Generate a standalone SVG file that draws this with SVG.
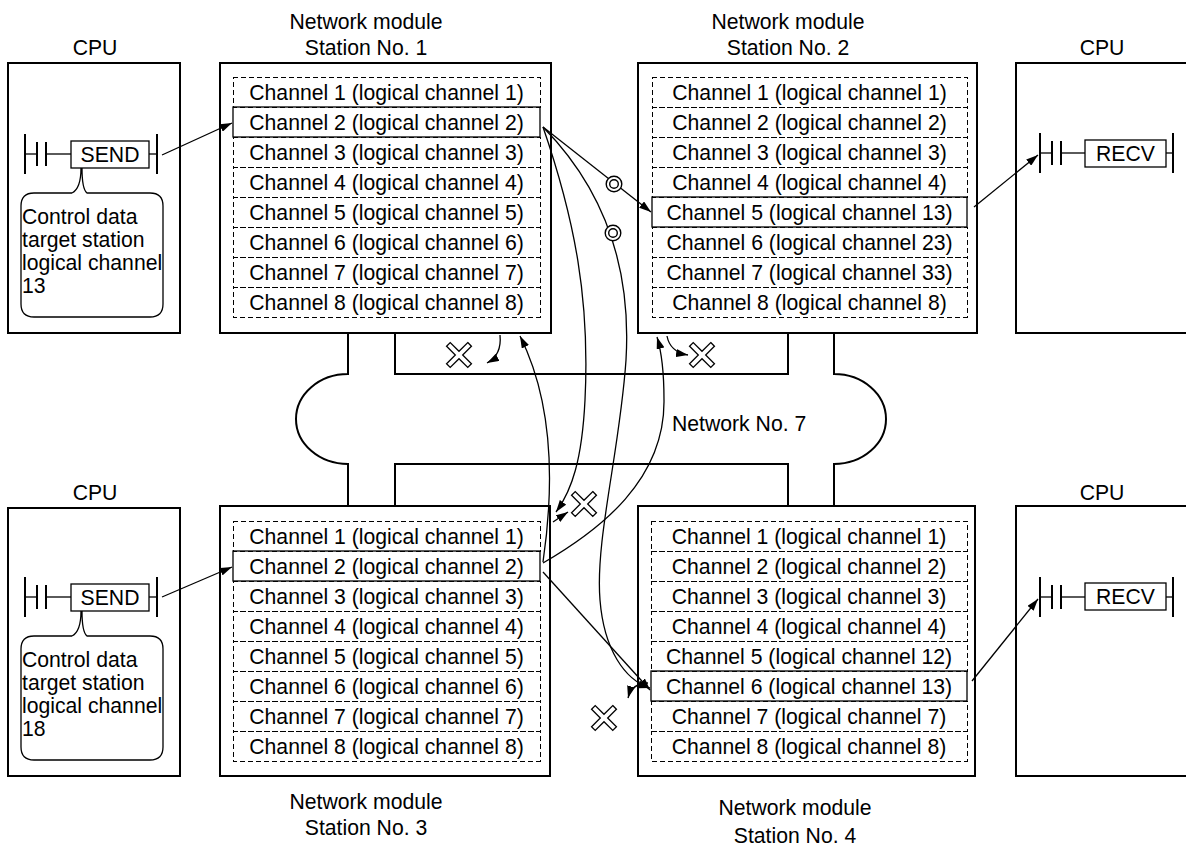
<svg xmlns="http://www.w3.org/2000/svg" width="1186" height="848" viewBox="0 0 1186 848">
<style>
.bx{fill:none;stroke:#000;stroke-width:2}
.row{fill:none;stroke:#000;stroke-width:1;stroke-dasharray:5 3;shape-rendering:crispEdges}
.sel{fill:none;stroke:#000;stroke-width:1.3}
.t{font-family:"Liberation Sans",Arial,sans-serif;font-size:21.2px;fill:#000}
.c{text-anchor:middle}
.con{fill:none;stroke:#000;stroke-width:1.3}
.rail{stroke:#000;stroke-width:2}
.thin{stroke:#000;stroke-width:1.3;fill:none}
.net{fill:none;stroke:#000;stroke-width:2}
.xm{fill:#fff;stroke:#000;stroke-width:1.3}
</style>
<defs>
<marker id="ah" viewBox="0 0 12 8" refX="12" refY="4" markerWidth="12" markerHeight="8" markerUnits="userSpaceOnUse" orient="auto">
<path d="M0,0 L12,4 L0,8 z" fill="#000"/>
</marker>
<polygon id="xshape" class="xm" points="-2.6,-15 2.6,-15 2.6,-2.6 15,-2.6 15,2.6 2.6,2.6 2.6,15 -2.6,15 -2.6,2.6 -15,2.6 -15,-2.6 -2.6,-2.6" transform="rotate(45)"/>
<g id="dcirc"><circle r="7.8" fill="#fff" stroke="#000" stroke-width="1.4"/><circle r="4.3" fill="none" stroke="#000" stroke-width="1.4"/></g>
</defs>
<rect width="1186" height="848" fill="#fff"/>

<g id="network">
<path class="net" d="M348 333 V374 A52 45 0 0 0 348 464 V506"/>
<path class="net" d="M395 333 V374 H788 V333"/>
<path class="net" d="M834 333 V374 A52 45 0 0 1 834 464 V506"/>
<path class="net" d="M395 506 V464 H788 V506"/>
<text class="t" x="672" y="431">Network No. 7</text>
</g>

<g id="cpu1">
<text class="t c" x="95" y="55">CPU</text>
<rect class="bx" x="8" y="63" width="172" height="270"/>
<line class="rail" x1="25" y1="134" x2="25" y2="174"/>
<line class="thin" x1="25" y1="154" x2="37" y2="154"/>
<line class="rail" x1="37" y1="142" x2="37" y2="166"/>
<line class="rail" x1="46" y1="142" x2="46" y2="166"/>
<line class="thin" x1="46" y1="154" x2="71" y2="154"/>
<rect class="thin" x="71" y="141" width="78" height="27"/>
<text class="t c" x="110" y="162">SEND</text>
<line class="thin" x1="149" y1="154" x2="157" y2="154"/>
<line class="rail" x1="157" y1="134" x2="157" y2="174"/>
<path class="thin" d="M72 193 H34 Q21 193 21 206 V304 Q21 317 34 317 H150 Q163 317 163 304 V206 Q163 193 150 193 H87 C83 190 82 182 82 168 M72 193 C78 190 81 182 81 168"/>
<text class="t" x="22" y="224">Control data</text>
<text class="t" x="22" y="247">target station</text>
<text class="t" x="22" y="270">logical channel</text>
<text class="t" x="22" y="293">13</text>
</g>

<g id="cpu3">
<text class="t c" x="95" y="500">CPU</text>
<rect class="bx" x="8" y="508" width="172" height="268"/>
<line class="rail" x1="25" y1="577" x2="25" y2="617"/>
<line class="thin" x1="25" y1="597" x2="37" y2="597"/>
<line class="rail" x1="37" y1="585" x2="37" y2="609"/>
<line class="rail" x1="46" y1="585" x2="46" y2="609"/>
<line class="thin" x1="46" y1="597" x2="71" y2="597"/>
<rect class="thin" x="71" y="584" width="78" height="27"/>
<text class="t c" x="110" y="605">SEND</text>
<line class="thin" x1="149" y1="597" x2="157" y2="597"/>
<line class="rail" x1="157" y1="577" x2="157" y2="617"/>
<path class="thin" d="M72 636 H34 Q21 636 21 649 V747 Q21 760 34 760 H150 Q163 760 163 747 V649 Q163 636 150 636 H87 C83 633 82 625 82 611 M72 636 C78 633 81 625 81 611"/>
<text class="t" x="22" y="667">Control data</text>
<text class="t" x="22" y="690">target station</text>
<text class="t" x="22" y="713">logical channel</text>
<text class="t" x="22" y="736">18</text>
</g>

<g id="cpu2">
<text class="t c" x="1102" y="55">CPU</text>
<path class="bx" d="M1190 63 H1016 V333 H1190"/>
<line class="rail" x1="1040" y1="133" x2="1040" y2="173"/>
<line class="thin" x1="1040" y1="153" x2="1052" y2="153"/>
<line class="rail" x1="1052" y1="141" x2="1052" y2="165"/>
<line class="rail" x1="1061" y1="141" x2="1061" y2="165"/>
<line class="thin" x1="1061" y1="153" x2="1085" y2="153"/>
<rect class="thin" x="1085" y="140" width="81" height="27"/>
<text class="t c" x="1125.5" y="161">RECV</text>
<line class="thin" x1="1166" y1="153" x2="1173" y2="153"/>
<line class="rail" x1="1173" y1="133" x2="1173" y2="173"/>
</g>

<g id="cpu4">
<text class="t c" x="1102" y="500">CPU</text>
<path class="bx" d="M1190 506 H1016 V776 H1190"/>
<line class="rail" x1="1040" y1="577" x2="1040" y2="617"/>
<line class="thin" x1="1040" y1="597" x2="1052" y2="597"/>
<line class="rail" x1="1052" y1="585" x2="1052" y2="609"/>
<line class="rail" x1="1061" y1="585" x2="1061" y2="609"/>
<line class="thin" x1="1061" y1="597" x2="1085" y2="597"/>
<rect class="thin" x="1085" y="583" width="81" height="27"/>
<text class="t c" x="1125.5" y="604">RECV</text>
<line class="thin" x1="1166" y1="597" x2="1173" y2="597"/>
<line class="rail" x1="1173" y1="577" x2="1173" y2="617"/>
</g>

<g id="station1">
<text class="t c" x="366" y="29">Network module</text>
<text class="t c" x="366" y="55">Station No. 1</text>
<rect class="bx" x="220" y="63" width="331" height="270"/>
<rect class="row" x="233" y="77" width="307" height="30"/>
<rect class="sel" x="233" y="107" width="307" height="30"/>
<rect class="row" x="233" y="137" width="307" height="30"/>
<rect class="row" x="233" y="167" width="307" height="30"/>
<rect class="row" x="233" y="197" width="307" height="30"/>
<rect class="row" x="233" y="227" width="307" height="30"/>
<rect class="row" x="233" y="257" width="307" height="30"/>
<rect class="row" x="233" y="287" width="307" height="30"/>
<text class="t c" x="386.5" y="100">Channel 1 (logical channel 1)</text>
<text class="t c" x="386.5" y="130">Channel 2 (logical channel 2)</text>
<text class="t c" x="386.5" y="160">Channel 3 (logical channel 3)</text>
<text class="t c" x="386.5" y="190">Channel 4 (logical channel 4)</text>
<text class="t c" x="386.5" y="220">Channel 5 (logical channel 5)</text>
<text class="t c" x="386.5" y="250">Channel 6 (logical channel 6)</text>
<text class="t c" x="386.5" y="280">Channel 7 (logical channel 7)</text>
<text class="t c" x="386.5" y="310">Channel 8 (logical channel 8)</text>
</g>

<g id="station2">
<text class="t c" x="788" y="29">Network module</text>
<text class="t c" x="788" y="55">Station No. 2</text>
<rect class="bx" x="638" y="63" width="339" height="270"/>
<rect class="row" x="652" y="77" width="315" height="30"/>
<rect class="row" x="652" y="107" width="315" height="30"/>
<rect class="row" x="652" y="137" width="315" height="30"/>
<rect class="row" x="652" y="167" width="315" height="30"/>
<rect class="sel" x="652" y="197" width="315" height="30"/>
<rect class="row" x="652" y="227" width="315" height="30"/>
<rect class="row" x="652" y="257" width="315" height="30"/>
<rect class="row" x="652" y="287" width="315" height="30"/>
<text class="t c" x="809.5" y="100">Channel 1 (logical channel 1)</text>
<text class="t c" x="809.5" y="130">Channel 2 (logical channel 2)</text>
<text class="t c" x="809.5" y="160">Channel 3 (logical channel 3)</text>
<text class="t c" x="809.5" y="190">Channel 4 (logical channel 4)</text>
<text class="t c" x="809.5" y="220">Channel 5 (logical channel 13)</text>
<text class="t c" x="809.5" y="250">Channel 6 (logical channel 23)</text>
<text class="t c" x="809.5" y="280">Channel 7 (logical channel 33)</text>
<text class="t c" x="809.5" y="310">Channel 8 (logical channel 8)</text>
</g>

<g id="station3">
<rect class="bx" x="220" y="506" width="330" height="270"/>
<rect class="row" x="233" y="521" width="307" height="30"/>
<rect class="sel" x="233" y="551" width="307" height="30"/>
<rect class="row" x="233" y="581" width="307" height="30"/>
<rect class="row" x="233" y="611" width="307" height="30"/>
<rect class="row" x="233" y="641" width="307" height="30"/>
<rect class="row" x="233" y="671" width="307" height="30"/>
<rect class="row" x="233" y="701" width="307" height="30"/>
<rect class="row" x="233" y="731" width="307" height="30"/>
<text class="t c" x="386.5" y="544">Channel 1 (logical channel 1)</text>
<text class="t c" x="386.5" y="574">Channel 2 (logical channel 2)</text>
<text class="t c" x="386.5" y="604">Channel 3 (logical channel 3)</text>
<text class="t c" x="386.5" y="634">Channel 4 (logical channel 4)</text>
<text class="t c" x="386.5" y="664">Channel 5 (logical channel 5)</text>
<text class="t c" x="386.5" y="694">Channel 6 (logical channel 6)</text>
<text class="t c" x="386.5" y="724">Channel 7 (logical channel 7)</text>
<text class="t c" x="386.5" y="754">Channel 8 (logical channel 8)</text>
<text class="t c" x="366" y="809">Network module</text>
<text class="t c" x="366" y="835">Station No. 3</text>
</g>

<g id="station4">
<rect class="bx" x="638" y="506" width="337" height="270"/>
<rect class="row" x="651" y="521" width="316" height="30"/>
<rect class="row" x="651" y="551" width="316" height="30"/>
<rect class="row" x="651" y="581" width="316" height="30"/>
<rect class="row" x="651" y="611" width="316" height="30"/>
<rect class="row" x="651" y="641" width="316" height="30"/>
<rect class="sel" x="651" y="671" width="316" height="30"/>
<rect class="row" x="651" y="701" width="316" height="30"/>
<rect class="row" x="651" y="731" width="316" height="30"/>
<text class="t c" x="809" y="544">Channel 1 (logical channel 1)</text>
<text class="t c" x="809" y="574">Channel 2 (logical channel 2)</text>
<text class="t c" x="809" y="604">Channel 3 (logical channel 3)</text>
<text class="t c" x="809" y="634">Channel 4 (logical channel 4)</text>
<text class="t c" x="809" y="664">Channel 5 (logical channel 12)</text>
<text class="t c" x="809" y="694">Channel 6 (logical channel 13)</text>
<text class="t c" x="809" y="724">Channel 7 (logical channel 7)</text>
<text class="t c" x="809" y="754">Channel 8 (logical channel 8)</text>
<text class="t c" x="795" y="815">Network module</text>
<text class="t c" x="795" y="843">Station No. 4</text>
</g>

<g id="connectors">
<path class="con" d="M162 155 L232 123" marker-end="url(#ah)"/>
<path class="con" d="M162 597 L232 567" marker-end="url(#ah)"/>
<path class="con" d="M974 207 L1038 155" marker-end="url(#ah)"/>
<path class="con" d="M972 681 L1038 599" marker-end="url(#ah)"/>
<path class="con" d="M543 127 L651 212" marker-end="url(#ah)"/>
<use href="#dcirc" x="614" y="184"/>
<path class="con" d="M543 127 C600 185 632 260 626 360 C620 450 595 540 600 600 C604 650 625 680 650 688" marker-end="url(#ah)"/>
<use href="#dcirc" x="613" y="233"/>
<path class="con" d="M543 127 C575 220 590 300 585 400 C582 460 572 490 556 512" marker-end="url(#ah)"/>
<path class="con" d="M553 522 L568 512" marker-end="url(#ah)"/>
<use href="#xshape" x="584" y="504"/>
<path class="con" d="M543 562 C555 480 552 400 520 336" marker-end="url(#ah)"/>
<path class="con" d="M500 335 Q502 355 487 363" marker-end="url(#ah)"/>
<use href="#xshape" x="459" y="355"/>
<path class="con" d="M543 563 C600 530 665 480 664 400 C664 370 661 350 657 337" marker-end="url(#ah)"/>
<path class="con" d="M667 336 Q670 352 688 355" marker-end="url(#ah)"/>
<use href="#xshape" x="702" y="355"/>
<path class="con" d="M543 572 L650 690" marker-end="url(#ah)"/>
<path class="con" d="M648 683 Q632 683 628 698" marker-end="url(#ah)"/>
<use href="#xshape" x="604" y="718"/>
</g>
</svg>
